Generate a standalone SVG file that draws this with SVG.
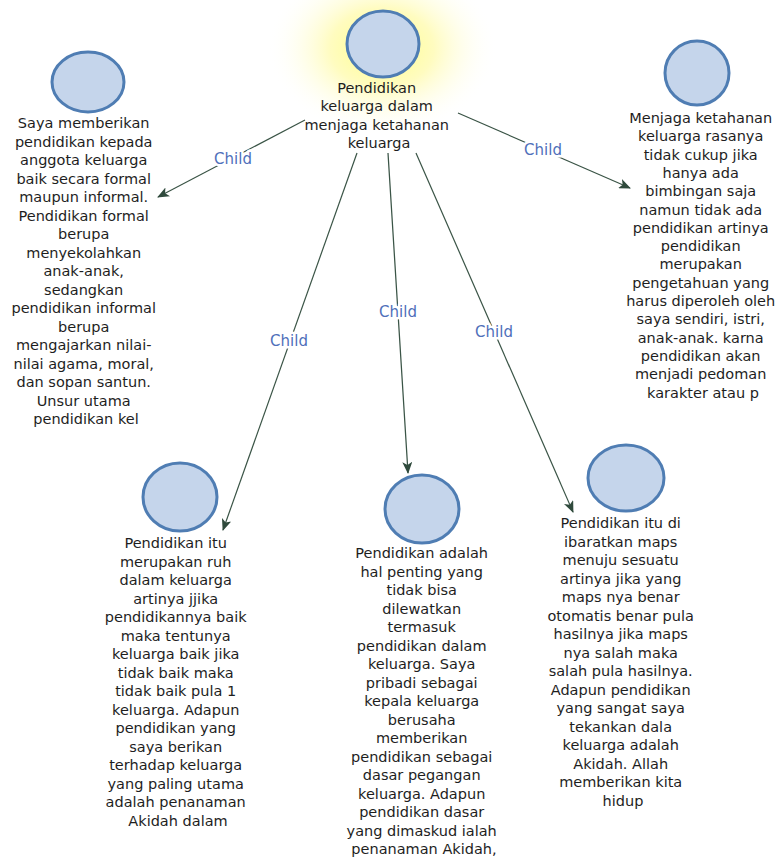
<svg xmlns="http://www.w3.org/2000/svg" width="782" height="861" viewBox="0 0 782 861">
<defs>
<radialGradient id="glow" cx="0.5" cy="0.5" r="0.5">
<stop offset="0" stop-color="#ffff80" stop-opacity="1"/>
<stop offset="0.45" stop-color="#fffbb0" stop-opacity="0.8"/>
<stop offset="1" stop-color="#ffffff" stop-opacity="0"/>
</radialGradient>
<marker id="arr" markerWidth="12" markerHeight="10" refX="11" refY="5" orient="auto" markerUnits="userSpaceOnUse">
<path d="M0,0 L12,5 L0,10 L3,5 Z" fill="#2f4a3c"/>
</marker>
<style>
.node circle, .node ellipse { fill:#c5d5eb; stroke:#4f7db3; stroke-width:3; }
.t { font-family:"DejaVu Sans", Verdana, sans-serif; font-size:14.5px; fill:#1e1e1e; text-anchor:middle; }
.edge { stroke:#3a5446; stroke-width:1.2; fill:none; marker-end:url(#arr); }
.lbl { font-family:"DejaVu Sans", Verdana, sans-serif; font-size:15px; fill:#4f6fba; text-anchor:middle; stroke:#ffffff; stroke-width:5; paint-order:stroke; stroke-linejoin:round; }
</style>
</defs>
<rect width="782" height="861" fill="#ffffff"/>
<ellipse cx="382" cy="48" rx="115" ry="88" fill="url(#glow)"/>

<g id="connectors">
<line class="edge" x1="305" y1="120" x2="158" y2="197"/>
<line class="edge" x1="458" y1="113" x2="630" y2="188"/>
<line class="edge" x1="357" y1="153" x2="223" y2="530"/>
<line class="edge" x1="388" y1="153" x2="408" y2="473"/>
<line class="edge" x1="416" y1="153" x2="573" y2="512"/>
<text class="lbl" x="233" y="164">Child</text>
<text class="lbl" x="543" y="155">Child</text>
<text class="lbl" x="289" y="346">Child</text>
<text class="lbl" x="398" y="317">Child</text>
<text class="lbl" x="494" y="337">Child</text>
</g>

<g id="root" class="node">
<ellipse cx="383" cy="44" rx="36" ry="33"/>
<text class="t" x="379" y="93">
<tspan x="379">Pendidikan</tspan>
<tspan x="379" dy="18.3">keluarga dalam</tspan>
<tspan x="379" dy="18.3">menjaga ketahanan</tspan>
<tspan x="379" dy="18.3">keluarga</tspan>
</text>
</g>

<g id="n1" class="node">
<ellipse cx="88" cy="82" rx="36" ry="30"/>
<text class="t" x="86" y="128">
<tspan x="86">Saya memberikan</tspan>
<tspan x="86" dy="18.5">pendidikan kepada</tspan>
<tspan x="86" dy="18.5">anggota keluarga</tspan>
<tspan x="86" dy="18.5">baik secara formal</tspan>
<tspan x="86" dy="18.5">maupun informal.</tspan>
<tspan x="86" dy="18.5">Pendidikan formal</tspan>
<tspan x="86" dy="18.5">berupa</tspan>
<tspan x="86" dy="18.5">menyekolahkan</tspan>
<tspan x="86" dy="18.5">anak-anak,</tspan>
<tspan x="86" dy="18.5">sedangkan</tspan>
<tspan x="86" dy="18.5">pendidikan informal</tspan>
<tspan x="86" dy="18.5">berupa</tspan>
<tspan x="86" dy="18.5">mengajarkan nilai-</tspan>
<tspan x="86" dy="18.5">nilai agama, moral,</tspan>
<tspan x="86" dy="18.5">dan sopan santun.</tspan>
<tspan x="86" dy="18.5">Unsur utama</tspan>
<tspan x="86" dy="18.5">pendidikan kel</tspan>
</text>
</g>

<g id="n2" class="node">
<ellipse cx="697" cy="73" rx="32" ry="32"/>
<text class="t" x="703" y="123">
<tspan x="703">Menjaga ketahanan</tspan>
<tspan x="703" dy="18.3">keluarga rasanya</tspan>
<tspan x="703" dy="18.3">tidak cukup jika</tspan>
<tspan x="703" dy="18.3">hanya ada</tspan>
<tspan x="703" dy="18.3">bimbingan saja</tspan>
<tspan x="703" dy="18.3">namun tidak ada</tspan>
<tspan x="703" dy="18.3">pendidikan artinya</tspan>
<tspan x="703" dy="18.3">pendidikan</tspan>
<tspan x="703" dy="18.3">merupakan</tspan>
<tspan x="703" dy="18.3">pengetahuan yang</tspan>
<tspan x="703" dy="18.3">harus diperoleh oleh</tspan>
<tspan x="703" dy="18.3">saya sendiri, istri,</tspan>
<tspan x="703" dy="18.3">anak-anak. karna</tspan>
<tspan x="703" dy="18.3">pendidikan akan</tspan>
<tspan x="703" dy="18.3">menjadi pedoman</tspan>
<tspan x="703" dy="18.3">karakter atau p</tspan>
</text>
</g>

<g id="n3" class="node">
<ellipse cx="180" cy="497" rx="37" ry="34"/>
<text class="t" x="178" y="548">
<tspan x="178">Pendidikan itu</tspan>
<tspan x="178" dy="18.5">merupakan ruh</tspan>
<tspan x="178" dy="18.5">dalam keluarga</tspan>
<tspan x="178" dy="18.5">artinya jjika</tspan>
<tspan x="178" dy="18.5">pendidikannya baik</tspan>
<tspan x="178" dy="18.5">maka tentunya</tspan>
<tspan x="178" dy="18.5">keluarga baik jika</tspan>
<tspan x="178" dy="18.5">tidak baik maka</tspan>
<tspan x="178" dy="18.5">tidak baik pula 1</tspan>
<tspan x="178" dy="18.5">keluarga. Adapun</tspan>
<tspan x="178" dy="18.5">pendidikan yang</tspan>
<tspan x="178" dy="18.5">saya berikan</tspan>
<tspan x="178" dy="18.5">terhadap keluarga</tspan>
<tspan x="178" dy="18.5">yang paling utama</tspan>
<tspan x="178" dy="18.5">adalah penanaman</tspan>
<tspan x="178" dy="18.5">Akidah dalam</tspan>
</text>
</g>

<g id="n4" class="node">
<ellipse cx="422" cy="509" rx="37" ry="34"/>
<text class="t" x="424" y="558">
<tspan x="424">Pendidikan adalah</tspan>
<tspan x="424" dy="18.5">hal penting yang</tspan>
<tspan x="424" dy="18.5">tidak bisa</tspan>
<tspan x="424" dy="18.5">dilewatkan</tspan>
<tspan x="424" dy="18.5">termasuk</tspan>
<tspan x="424" dy="18.5">pendidikan dalam</tspan>
<tspan x="424" dy="18.5">keluarga. Saya</tspan>
<tspan x="424" dy="18.5">pribadi sebagai</tspan>
<tspan x="424" dy="18.5">kepala keluarga</tspan>
<tspan x="424" dy="18.5">berusaha</tspan>
<tspan x="424" dy="18.5">memberikan</tspan>
<tspan x="424" dy="18.5">pendidikan sebagai</tspan>
<tspan x="424" dy="18.5">dasar pegangan</tspan>
<tspan x="424" dy="18.5">keluarga. Adapun</tspan>
<tspan x="424" dy="18.5">pendidikan dasar</tspan>
<tspan x="424" dy="18.5">yang dimaskud ialah</tspan>
<tspan x="424" dy="18.5">penanaman Akidah,</tspan>
</text>
</g>

<g id="n5" class="node">
<ellipse cx="626" cy="478" rx="38" ry="33"/>
<text class="t" x="623" y="528">
<tspan x="623">Pendidikan itu di</tspan>
<tspan x="623" dy="18.5">ibaratkan maps</tspan>
<tspan x="623" dy="18.5">menuju sesuatu</tspan>
<tspan x="623" dy="18.5">artinya jika yang</tspan>
<tspan x="623" dy="18.5">maps nya benar</tspan>
<tspan x="623" dy="18.5">otomatis benar pula</tspan>
<tspan x="623" dy="18.5">hasilnya jika maps</tspan>
<tspan x="623" dy="18.5">nya salah maka</tspan>
<tspan x="623" dy="18.5">salah pula hasilnya.</tspan>
<tspan x="623" dy="18.5">Adapun pendidikan</tspan>
<tspan x="623" dy="18.5">yang sangat saya</tspan>
<tspan x="623" dy="18.5">tekankan dala</tspan>
<tspan x="623" dy="18.5">keluarga adalah</tspan>
<tspan x="623" dy="18.5">Akidah. Allah</tspan>
<tspan x="623" dy="18.5">memberikan kita</tspan>
<tspan x="623" dy="18.5">hidup</tspan>
</text>
</g>
</svg>
